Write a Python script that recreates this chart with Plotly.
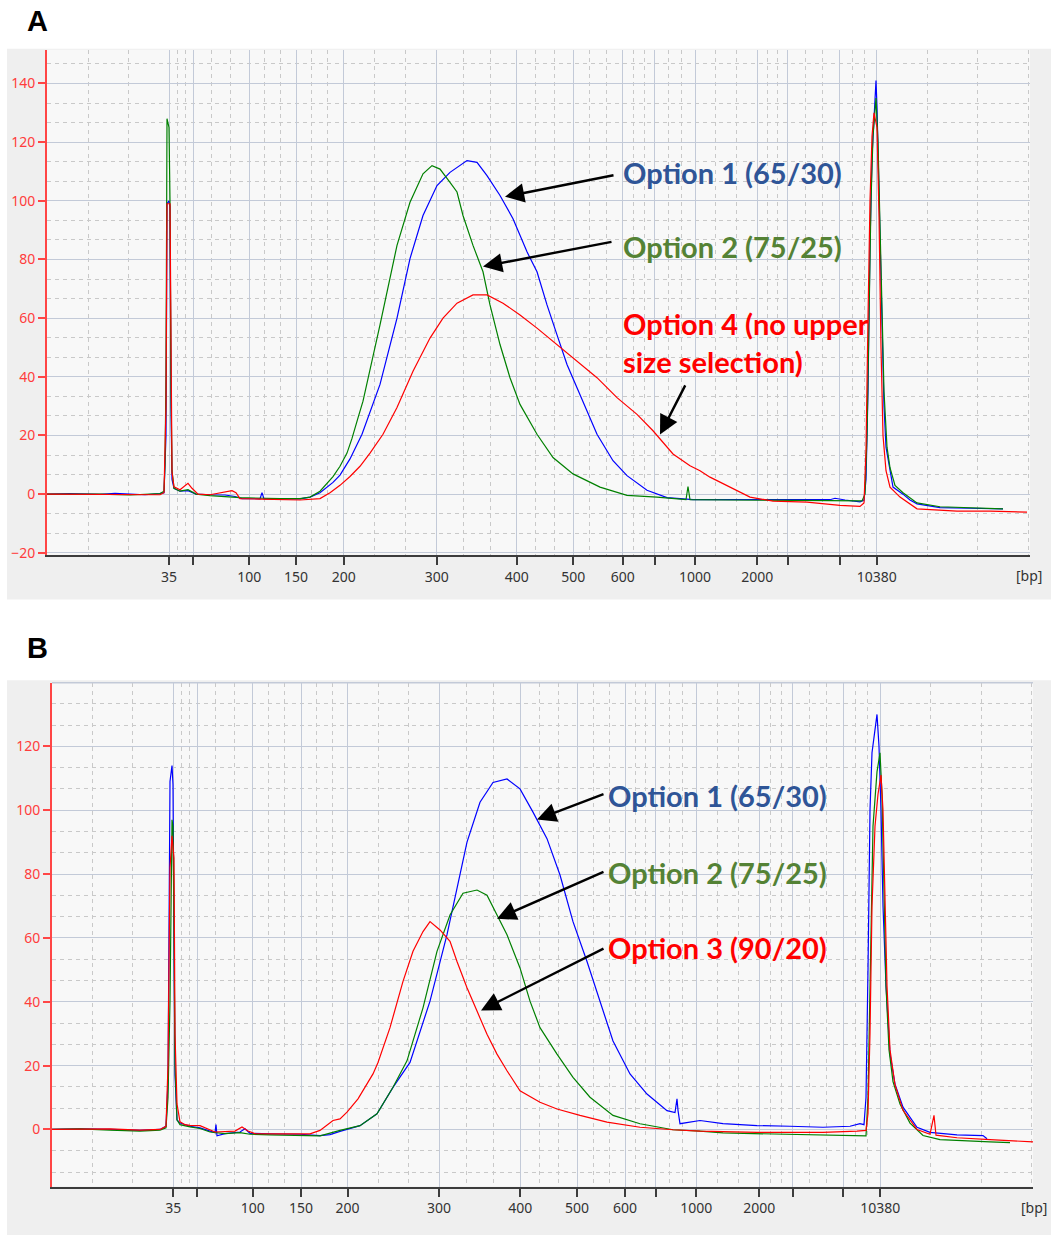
import plotly.graph_objects as go

# ---------------- DATA ----------------
# x = migration time index (relative), y = fluorescence units
LADDER_BP = ['35', '50', '100', '150', '200', '300', '400', '500', '600', '700',
             '1000', '2000', '3000', '7000', '10380']
LADDER_SHOWN = ['35', '', '100', '150', '200', '300', '400', '500', '600', '',
                '1000', '2000', '', '', '10380']
A_ladder_t = [122, 146.3, 202.3, 249, 296.7, 389.7, 469.7, 526.3, 575.7, 607.7,
              648, 710.3, 740.7, 792.7, 829.7]
B_ladder_t = [121.3, 145.3, 200.7, 249, 295.5, 387, 468.3, 525, 573, 603.7,
              644.3, 707.3, 740.7, 791.3, 828.3]

# Panel A
A_blue_t = [0, 23, 53, 68, 83, 98, 113, 117, 119, 120, 122, 123, 124, 125, 127, 133, 141, 149,
            163, 178, 188, 195, 213, 215, 217, 233, 253, 263, 273, 286, 293, 303, 311, 315,
            333, 350, 363, 376, 390, 403, 420, 430, 440, 453, 466, 480, 490, 500, 510, 520,
            530, 540, 550, 566, 580, 600, 620, 646, 683, 733, 783, 788, 798, 813, 817, 819,
            821, 823, 825, 827, 829, 830, 831, 833, 835, 837, 839, 843, 846, 856, 863, 870,
            893, 923, 956]
A_blue_f = [0, 0.2, -0.1, 0.3, 0, -0.2, 0.2, 0.5, 20, 99, 100, 98, 30, 5, 2, 1, 1.2, 0,
            -0.2, -0.3, -0.8, -1.5, -1.6, 0.5, -1.6, -1.7, -1.6, -1.0, 0.5, 4, 6.5, 12, 18, 20.4,
            37.4, 60, 80.3, 95, 105.2, 109.7, 113.7, 113.1, 108.6, 101.8, 93.9, 82.6, 75.8, 64.5, 54.3, 44.2,
            36.3, 28.4, 20.4, 11.4, 6.3, 1.3, -1.2, -1.9, -1.9, -2.0, -1.9, -1.4, -2.0, -2.6, -2.0, 5,
            35, 85, 115, 128, 141, 132, 118, 95, 60, 30, 16, 8, 2.4, 0, -2, -3.3,
            -4.6, -4.8, -5]

A_green_t = [0, 53, 83, 113, 117, 118, 119, 120, 122, 123, 124, 125, 127, 133, 141, 149, 163,
             193, 233, 253, 263, 273, 286, 293, 300, 305, 311, 316, 333, 350, 363, 376, 385,
             393, 403, 410, 416, 426, 436, 443, 453, 463, 473, 490, 506, 526, 553, 580, 610,
             639, 641, 643, 683, 733, 783, 815, 818, 820, 822, 824, 826, 828, 829, 831, 833,
             835, 837, 840, 843, 848, 856, 870, 893, 956]
A_green_f = [0, 0, -0.3, 0.2, 1, 10, 40, 128, 125, 100, 35, 8, 2, 1, 1.5, 0, -0.5,
             -1.2, -1.5, -1.5, -1, 1, 6, 9.5, 14, 19, 26, 31.7, 57.7, 84.8, 99.5, 109.2, 112,
             110.8, 106.3, 103, 95, 84.8, 75.8, 64.5, 51, 39.7, 30.6, 20.4, 12.5, 6.9, 2.4, -0.4, -1.0,
             -1.9, 2.6, -1.9, -2.0, -2.2, -2.3, -2.3, 0, 20, 60, 100, 122, 132, 135, 120, 90,
             60, 35, 16, 9, 3, 0.5, -3, -4.3, -5]

A_red_t = [0, 53, 83, 113, 117, 119, 120, 123, 125, 127, 133, 138, 141, 145, 151, 163, 178,
           185, 189, 193, 213, 233, 253, 273, 283, 293, 303, 313, 323, 336, 350, 366, 383,
           396, 410, 426, 440, 456, 473, 490, 510, 530, 550, 570, 590, 606, 626, 643, 653,
           663, 676, 688, 703, 726, 760, 793, 813, 817, 819, 821, 823, 825, 827, 830, 832,
           834, 836, 839, 843, 853, 870, 910, 943, 980]
A_red_f = [0, -0.1, 0, -0.2, 0.5, 30, 99, 99, 7.5, 2.5, 1.5, 3, 3.7, 2, 0, -0.2, 0.7,
           1.2, 0.5, -1.5, -1.7, -1.8, -2, -1.5, 0.5, 3, 6, 9.5, 14, 20.4, 29.5, 41.9, 53.2,
           60, 65.1, 67.9, 67.9, 65.1, 61.1, 56.6, 51, 45.3, 39.7, 32.9, 27.2, 21.6, 13.7, 9.7, 8,
           5.8, 3.5, 1.5, -1, -2.4, -2.7, -3.8, -4.2, -3, 15, 60, 100, 122, 130, 125, 95,
           50, 20, 8, 2.4, -1, -5, -5.8, -5.8, -6.1]

# Panel B
B_blue_t = [0, 28, 58, 88, 108, 114, 116, 118, 120, 121, 122, 123, 125, 128, 138, 148, 158,
            163, 164, 165, 173, 188, 193, 198, 218, 248, 268, 278, 288, 308, 325, 341, 358,
            378, 395, 405, 415, 428, 441, 455, 468, 481, 495, 508, 521, 535, 548, 561, 578,
            595, 615, 623, 625, 626, 628, 648, 671, 705, 738, 771, 798, 808, 812, 814, 816,
            818, 820, 823, 825, 827, 829, 831, 834, 838, 843, 851, 865, 878, 905, 931, 935]
B_blue_f = [0, 0.2, 0, -0.3, 0, 1, 15, 109, 114, 108, 60, 17, 3, 2, 1, 0.5, -0.5,
            -1, 1.5, -2, -1.3, -0.8, 0.2, -1.2, -1.4, -1.5, -1.9, -1.6, -0.6, 1.2, 4.9, 13.2, 21,
            40.2, 61, 75.5, 90, 102.5, 108.7, 109.8, 106.7, 99.4, 91.1, 79.7, 65.1, 52.6, 40.2, 27.7, 17.4,
            11.1, 5.9, 5.3, 9.6, 6, 1.8, 2.8, 1.8, 1.2, 1, 0.7, 1, 1.8, 1.5, 10, 50,
            100, 118, 126, 130, 120, 100, 70, 45, 23.6, 14.2, 7, 0.7, -0.9, -1.7, -1.9, -2.9]

B_green_t = [0, 28, 58, 88, 108, 114, 116, 118, 120, 121, 122, 123, 125, 128, 138, 148, 158,
             173, 188, 198, 218, 248, 268, 288, 308, 325, 341, 355, 371, 385, 398, 411, 425,
             435, 445, 455, 468, 478, 488, 505, 521, 538, 561, 588, 621, 648, 671, 738, 805,
             814, 816, 818, 821, 825, 828, 830, 832, 834, 837, 841, 848, 858, 871, 888, 938, 958]
B_green_f = [0, 0.2, -0.2, -0.5, -0.2, 0.5, 10, 40, 97, 95, 62, 20, 3, 1.5, 0.8, 0.3, -0.8,
             -1.3, -1, -1.5, -1.7, -1.8, -2, -0.3, 1.2, 4.9, 13.2, 21.5, 38.1, 55.8, 67.2, 74, 75,
             73.4, 67.2, 61, 50.6, 40.2, 31.9, 23.6, 16.3, 10.1, 4.4, 1.8, -0.1, -0.5, -1.1, -1.6, -1.9,
             -2, 10, 45, 95, 112, 118, 105, 75, 45, 25, 15, 8, 2, -1.9, -3.2, -3.9, -4.1]

B_red_t = [0, 28, 58, 88, 108, 114, 116, 118, 120, 122, 123, 125, 126, 128, 133, 138, 148,
           156, 163, 183, 190, 196, 203, 228, 258, 268, 281, 288, 295, 306, 321, 326, 338,
           351, 361, 371, 378, 388, 398, 405, 415, 425, 435, 445, 455, 468, 488, 505, 528,
           555, 588, 621, 648, 705, 771, 805, 814, 816, 818, 820, 823, 826, 829, 831, 833,
           835, 838, 843, 851, 865, 878, 882, 884, 905, 938, 981]
B_red_f = [0, 0, 0.2, -0.2, 0, 1, 20, 82, 92, 85, 30, 8, 6.4, 2.4, 1.5, 1.3, 1.2,
           0, -0.8, -0.5, 0.8, -0.5, -1.3, -1.4, -1.4, -0.3, 2.8, 3.3, 5.4, 9.6, 17.4, 21, 31.9,
           46.4, 55.8, 62, 65.1, 62.5, 58.9, 52.6, 44.4, 37.1, 29.8, 23.6, 18.4, 12.1, 8.5, 6.4, 4.4,
           2.3, 0.7, -0.1, -0.5, -0.9, -0.9, -0.5, -0.3, 5, 30, 70, 95, 105, 111, 100, 75,
           45, 25, 14, 6, 0, -1.5, 4.4, -1.8, -2.6, -3.2, -3.9]

A_labels = ['Option 1 (65/30)', 'Option 2 (75/25)', 'Option 4 (no upper', 'size selection)']
B_labels = ['Option 1 (65/30)', 'Option 2 (75/25)', 'Option 3 (90/20)']

# ---------------- STYLE ----------------
W, H = 1051, 1247
BLUE, GREEN, RED = '#0000ff', '#008000', '#ff0000'
TXT_BLUE, TXT_GREEN, TXT_RED = '#2f5597', '#548235', '#ff0000'
MAJOR_GRID = '#c3cad8'
MINOR_GRID = '#c9c9c9'
AXIS_RED = '#ff4545'
TICK_FONT = 'Noto Sans'
TICK_SIZE = 14


def px(x):
    return x / W


def py(y):
    return 1 - y / H


def minor_positions(ladder, xmax, left_step, right_step):
    vals = []
    for k in (1, 2):
        v = ladder[0] - left_step * k
        if v > 0:
            vals.append(v)
    for a, b in zip(ladder[:-1], ladder[1:]):
        vals += [a + (b - a) / 3, a + 2 * (b - a) / 3]
    k = 1
    while ladder[-1] + right_step * k < xmax:
        vals.append(ladder[-1] + right_step * k)
        k += 1
    return vals


fig = go.Figure()

# gray panel frames (paper) and plot-area backgrounds
frames = [(7, 49, 1051, 603), (7, 684, 1051, 1242)]
for (x0, y0, x1, y1) in frames:
    fig.add_shape(type='rect', xref='paper', yref='paper', x0=px(x0), x1=px(x1),
                  y0=py(y1), y1=py(y0), fillcolor='#efefef', line=dict(width=0), layer='below')

panels = [
    dict(xa='x', ya='y', ladder=A_ladder_t, xdom=[px(47), px(1030)], ydom=[py(558), py(50)],
         xr=[0, 983], yr=[-20.7, 151.5],
         series=[(A_blue_t, A_blue_f, BLUE), (A_green_t, A_green_f, GREEN), (A_red_t, A_red_f, RED)]),
    dict(xa='x2', ya='y2', ladder=B_ladder_t, xdom=[px(52), px(1033)], ydom=[py(1193.3), py(686.7)],
         xr=[0, 981], yr=[-17.9, 139.9],
         series=[(B_blue_t, B_blue_f, BLUE), (B_green_t, B_green_f, GREEN), (B_red_t, B_red_f, RED)]),
]

layout_axes = {}
for i, p in enumerate(panels):
    sfx = '' if i == 0 else str(i + 1)
    fig.add_shape(type='rect', xref=f'{p["xa"]} domain', yref=f'{p["ya"]} domain',
                  x0=0, x1=1, y0=0, y1=1, fillcolor='#f8f8f8', line=dict(width=0), layer='below')
    for t, f, c in p['series']:
        fig.add_trace(go.Scatter(x=t, y=f, mode='lines', line=dict(color=c, width=1.2),
                                 xaxis=p['xa'], yaxis=p['ya'], showlegend=False, hoverinfo='skip'))
    layout_axes['xaxis' + sfx] = dict(
        domain=p['xdom'], range=p['xr'], anchor=p['ya'],
        tickmode='array', tickvals=p['ladder'], ticktext=LADDER_SHOWN,
        ticks='outside', ticklen=8, tickwidth=1.5, tickcolor='#3c3c3c',
        showline=True, linecolor='#3c3c3c', linewidth=2,
        showgrid=True, gridcolor=MAJOR_GRID, gridwidth=1, zeroline=False,
        tickfont=dict(family=TICK_FONT, size=TICK_SIZE, color='#333333'),
        minor=dict(tickmode='array',
                   tickvals=minor_positions(p['ladder'], p['xr'][1], 40.5, 50.5),
                   showgrid=True, gridcolor=MINOR_GRID, griddash='4px,4px', gridwidth=1, ticks=''),
        fixedrange=True,
    )
    layout_axes['yaxis' + sfx] = dict(
        domain=p['ydom'], range=p['yr'], anchor=p['xa'],
        tickmode='linear', tick0=0, dtick=20,
        ticks='outside', ticklen=7, tickwidth=1.5, tickcolor=AXIS_RED,
        showline=True, linecolor=AXIS_RED, linewidth=2,
        showgrid=True, gridcolor=MAJOR_GRID, gridwidth=1, zeroline=False,
        tickfont=dict(family=TICK_FONT, size=TICK_SIZE, color='#ff3c3c'),
        minor=dict(tick0=0, dtick=20 / 3, showgrid=True, gridcolor=MINOR_GRID,
                   griddash='4px,4px', gridwidth=1, ticks=''),
        fixedrange=True,
    )

# top border line of panel B (140 gridline at edge)
fig.add_shape(type='line', xref='x2 domain', yref='y2 domain', x0=0, x1=1, y0=1, y1=1,
              line=dict(color=MAJOR_GRID, width=1.5))

ann = []
# panel letters
for letter, yy in (('A', 21), ('B', 652)):
    ann.append(dict(text=f'<b>{letter}</b>', xref='paper', yref='paper', x=px(37), y=py(yy),
                    showarrow=False, font=dict(family='Liberation Sans', size=29, color='black'),
                    xanchor='center', yanchor='middle'))
# [bp] labels
for xx, yy in ((1029, 579), (1034, 1214)):
    ann.append(dict(text='[bp]', xref='paper', yref='paper', x=px(xx), y=py(yy), showarrow=False,
                    font=dict(family=TICK_FONT, size=TICK_SIZE, color='#333333'),
                    xanchor='center', yanchor='middle'))

LBL_FONT = 'Lato'
LBL_SIZE = 29
# Panel A labels (x, y in data units)
A_lbl_pos = [(574, 109.5, TXT_BLUE), (574, 84.4, TXT_GREEN), (574, 58.0, TXT_RED), (574, 45.1, TXT_RED)]
for txt, (x, y, c) in zip(A_labels, A_lbl_pos):
    ann.append(dict(text=f'<b>{txt}</b>', xref='x', yref='y', x=x, y=y, showarrow=False,
                    xanchor='left', yanchor='middle', font=dict(family=LBL_FONT, size=LBL_SIZE, color=c)))
B_lbl_pos = [(554, 104.6, TXT_BLUE), (554, 80.6, TXT_GREEN), (554, 56.9, TXT_RED)]
for txt, (x, y, c) in zip(B_labels, B_lbl_pos):
    ann.append(dict(text=f'<b>{txt}</b>', xref='x2', yref='y2', x=x, y=y, showarrow=False,
                    xanchor='left', yanchor='middle', font=dict(family=LBL_FONT, size=LBL_SIZE, color=c)))

# arrows: (tail x, tail y, tip x, tip y)
A_arrows = [(568, 108.8, 458, 101.4), (566, 86.1, 436, 77.6), (639, 37.6, 613, 20.3)]
B_arrows = [(553, 105.2, 485, 97.1), (553, 80.9, 445, 66.0), (553, 56.9, 429, 37.3)]
for arrows, xr, yr in ((A_arrows, 'x', 'y'), (B_arrows, 'x2', 'y2')):
    for (tx, ty, hx, hy) in arrows:
        ann.append(dict(text='', xref=xr, yref=yr, axref=xr, ayref=yr, x=hx, y=hy, ax=tx, ay=ty,
                        showarrow=True, arrowhead=2, arrowsize=1.6, arrowwidth=2.4,
                        arrowcolor='black', standoff=0, startstandoff=0))

fig.update_layout(
    width=W, height=H, margin=dict(l=0, r=0, t=0, b=0),
    paper_bgcolor='white', plot_bgcolor='rgba(0,0,0,0)',
    annotations=ann, showlegend=False, **layout_axes,
)

fig.write_html('out.html', config={'displayModeBar': False},
               post_script="document.body.style.margin='0';document.body.style.padding='0';"
                           "document.documentElement.style.overflow='hidden';")
